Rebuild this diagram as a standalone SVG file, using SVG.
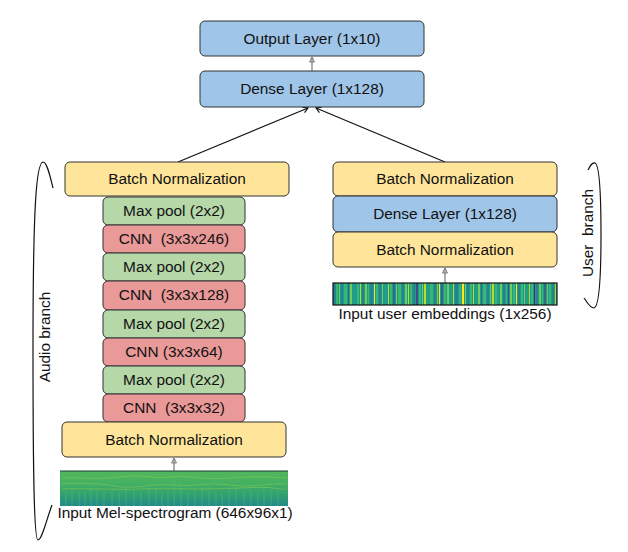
<svg xmlns="http://www.w3.org/2000/svg" width="628" height="552" viewBox="0 0 628 552">
<style>
  .n rect { stroke:#333; stroke-width:1; }
  .blue { fill:#9fc5e8; }
  .yel { fill:#ffe599; }
  .grn { fill:#b6d7a8; }
  .red { fill:#ea9999; }
  text { font-family:"Liberation Sans", Arial, sans-serif; font-size:15.4px; fill:#111; text-anchor:middle; white-space:pre; }
  .conn { stroke:#111; stroke-width:1.2; fill:none; }
  .gray { stroke:#777; stroke-width:1.2; fill:none; }
  .brace { stroke:#111; stroke-width:1.2; fill:none; }
</style>
<defs>
  <marker id="ah" markerWidth="8" markerHeight="8" refX="6" refY="4" orient="auto" markerUnits="userSpaceOnUse">
    <path d="M1,1 L6,4 L1,7" fill="none" stroke="#111" stroke-width="1.2"/>
  </marker>
  <marker id="ahg" markerWidth="8" markerHeight="8" refX="6" refY="4" orient="auto" markerUnits="userSpaceOnUse">
    <path d="M1,1.5 L6,4 L1,6.5 Z" fill="none" stroke="#777" stroke-width="1"/>
  </marker>
  <linearGradient id="spec" x1="0" y1="0" x2="0" y2="1">
    <stop offset="0" stop-color="#52b75b"/>
    <stop offset="0.35" stop-color="#44b062"/>
    <stop offset="0.7" stop-color="#2f9f74"/>
    <stop offset="1" stop-color="#238a8a"/>
  </linearGradient>
</defs>

<g id="connectors">
  <line class="gray" x1="312" y1="71" x2="312" y2="57" marker-end="url(#ahg)"/>
  <line class="conn" x1="178" y1="162" x2="308" y2="108" marker-end="url(#ah)"/>
  <line class="conn" x1="445" y1="162" x2="316" y2="108" marker-end="url(#ah)"/>
  <line class="gray" x1="174" y1="471" x2="174" y2="458" marker-end="url(#ahg)"/>
  <line class="gray" x1="445" y1="283" x2="445" y2="268" marker-end="url(#ahg)"/>
</g>

<g id="output-layer" class="n"><rect class="blue" x="200" y="21" width="224" height="35" rx="5"/><text x="312" y="44">Output Layer (1x10)</text></g>
<g id="dense-layer" class="n"><rect class="blue" x="200" y="71" width="224" height="36" rx="5"/><text x="312" y="94">Dense Layer (1x128)</text></g>

<g id="audio-bn-top" class="n"><rect class="yel" x="65" y="162" width="224" height="34" rx="5"/><text x="177" y="184">Batch Normalization</text></g>
<g id="maxpool-1" class="n"><rect class="grn" x="103" y="197" width="142" height="28" rx="5"/><text x="174" y="216">Max pool (2x2)</text></g>
<g id="cnn-246" class="n"><rect class="red" x="103" y="225" width="142" height="28" rx="5"/><text x="174" y="244">CNN  (3x3x246)</text></g>
<g id="maxpool-2" class="n"><rect class="grn" x="103" y="253" width="142" height="28" rx="5"/><text x="174" y="272">Max pool (2x2)</text></g>
<g id="cnn-128" class="n"><rect class="red" x="103" y="281" width="142" height="29" rx="5"/><text x="174" y="300">CNN  (3x3x128)</text></g>
<g id="maxpool-3" class="n"><rect class="grn" x="103" y="310" width="142" height="28" rx="5"/><text x="174" y="329">Max pool (2x2)</text></g>
<g id="cnn-64" class="n"><rect class="red" x="103" y="338" width="142" height="28" rx="5"/><text x="174" y="357">CNN (3x3x64)</text></g>
<g id="maxpool-4" class="n"><rect class="grn" x="103" y="366" width="142" height="28" rx="5"/><text x="174" y="385">Max pool (2x2)</text></g>
<g id="cnn-32" class="n"><rect class="red" x="103" y="394" width="142" height="28" rx="5"/><text x="174" y="413">CNN  (3x3x32)</text></g>
<g id="audio-bn-bottom" class="n"><rect class="yel" x="62" y="422" width="224" height="35" rx="5"/><text x="174" y="445">Batch Normalization</text></g>

<g id="mel-input">
  <rect x="60" y="471" width="228" height="35" fill="url(#spec)"/>
  <g stroke="#a9d84a" stroke-width="1" fill="none" opacity="0.4">
    <path d="M62,478 C80,477 95,480 120,477 S150,479 170,477 S200,480 230,478 S270,477 287,478"/>
    <path d="M62,483 C75,485 95,482 115,486 S150,483 175,485 S205,482 230,485 S265,483 287,484"/>
    <path d="M62,489 C85,488 110,490 140,489 S200,490 240,488 S275,490 287,489"/>
  </g>
  <g stroke="#62c264" stroke-width="1" opacity="0.45">
    <line x1="66" y1="490" x2="66" y2="506"/><line x1="72" y1="488" x2="72" y2="506"/><line x1="79" y1="493" x2="79" y2="506"/><line x1="85" y1="492" x2="85" y2="506"/>
    <line x1="91" y1="489" x2="91" y2="506"/><line x1="97" y1="486" x2="97" y2="506"/><line x1="104" y1="491" x2="104" y2="506"/><line x1="112" y1="490" x2="112" y2="506"/>
    <line x1="119" y1="493" x2="119" y2="506"/><line x1="126" y1="485" x2="126" y2="506"/><line x1="134" y1="490" x2="134" y2="506"/><line x1="141" y1="492" x2="141" y2="506"/>
    <line x1="149" y1="489" x2="149" y2="506"/><line x1="156" y1="487" x2="156" y2="506"/><line x1="162" y1="493" x2="162" y2="506"/><line x1="168" y1="491" x2="168" y2="506"/>
    <line x1="174" y1="480" x2="174" y2="506"/><line x1="181" y1="484" x2="181" y2="506"/><line x1="188" y1="492" x2="188" y2="506"/><line x1="195" y1="490" x2="195" y2="506"/>
    <line x1="202" y1="489" x2="202" y2="506"/><line x1="209" y1="486" x2="209" y2="506"/><line x1="216" y1="493" x2="216" y2="506"/><line x1="222" y1="492" x2="222" y2="506"/>
    <line x1="229" y1="490" x2="229" y2="506"/><line x1="236" y1="487" x2="236" y2="506"/><line x1="244" y1="491" x2="244" y2="506"/><line x1="251" y1="490" x2="251" y2="506"/>
    <line x1="258" y1="493" x2="258" y2="506"/><line x1="264" y1="485" x2="264" y2="506"/><line x1="271" y1="490" x2="271" y2="506"/><line x1="278" y1="491" x2="278" y2="506"/>
  </g>
  <line x1="60" y1="471" x2="288" y2="471" stroke="#1c3b3b" stroke-width="1.2"/>
  <text x="175" y="518">Input Mel-spectrogram (646x96x1)</text>
</g>

<g id="user-bn-top" class="n"><rect class="yel" x="333" y="162" width="224" height="34" rx="5"/><text x="445" y="184">Batch Normalization</text></g>
<g id="user-dense" class="n"><rect class="blue" x="333" y="196" width="224" height="36" rx="5"/><text x="445" y="219">Dense Layer (1x128)</text></g>
<g id="user-bn-bottom" class="n"><rect class="yel" x="333" y="232" width="224" height="35" rx="5"/><text x="445" y="255">Batch Normalization</text></g>

<g id="user-input">
  <rect x="333" y="283" width="224" height="22" fill="#23998a"/>
  <g>
    <rect x="333" y="283" width="3" height="22" fill="#26828e"/>
    <rect x="336" y="283" width="2" height="22" fill="#35b779"/>
    <rect x="339" y="283" width="1" height="22" fill="#6ece58"/>
    <rect x="341" y="283" width="2" height="22" fill="#26828e"/>
    <rect x="344" y="283" width="3" height="22" fill="#35b779"/>
    <rect x="348" y="283" width="1" height="22" fill="#31688e"/>
    <rect x="350" y="283" width="2" height="22" fill="#6ece58"/>
    <rect x="353" y="283" width="3" height="22" fill="#1f9e89"/>
    <rect x="357" y="283" width="2" height="22" fill="#35b779"/>
    <rect x="360" y="283" width="1" height="22" fill="#b5de2b"/>
    <rect x="362" y="283" width="2" height="22" fill="#26828e"/>
    <rect x="365" y="283" width="2" height="22" fill="#6ece58"/>
    <rect x="368" y="283" width="1" height="22" fill="#35b779"/>
    <rect x="370" y="283" width="3" height="22" fill="#26828e"/>
    <rect x="374" y="283" width="1" height="22" fill="#fde725"/>
    <rect x="376" y="283" width="2" height="22" fill="#35b779"/>
    <rect x="379" y="283" width="2" height="22" fill="#26828e"/>
    <rect x="382" y="283" width="1" height="22" fill="#6ece58"/>
    <rect x="384" y="283" width="3" height="22" fill="#1f9e89"/>
    <rect x="388" y="283" width="1" height="22" fill="#b5de2b"/>
    <rect x="390" y="283" width="2" height="22" fill="#35b779"/>
    <rect x="393" y="283" width="2" height="22" fill="#31688e"/>
    <rect x="396" y="283" width="1" height="22" fill="#6ece58"/>
    <rect x="398" y="283" width="3" height="22" fill="#35b779"/>
    <rect x="402" y="283" width="2" height="22" fill="#26828e"/>
    <rect x="405" y="283" width="2" height="22" fill="#6ece58"/>
    <rect x="408" y="283" width="1" height="22" fill="#b5de2b"/>
    <rect x="410" y="283" width="2" height="22" fill="#35b779"/>
    <rect x="413" y="283" width="2" height="22" fill="#26828e"/>
    <rect x="416" y="283" width="2" height="22" fill="#3e4a89"/>
    <rect x="419" y="283" width="2" height="22" fill="#35b779"/>
    <rect x="422" y="283" width="1" height="22" fill="#6ece58"/>
    <rect x="424" y="283" width="2" height="22" fill="#b5de2b"/>
    <rect x="427" y="283" width="2" height="22" fill="#1f9e89"/>
    <rect x="430" y="283" width="3" height="22" fill="#35b779"/>
    <rect x="434" y="283" width="2" height="22" fill="#26828e"/>
    <rect x="437" y="283" width="1" height="22" fill="#6ece58"/>
    <rect x="439" y="283" width="1" height="22" fill="#fde725"/>
    <rect x="441" y="283" width="2" height="22" fill="#31688e"/>
    <rect x="444" y="283" width="2" height="22" fill="#35b779"/>
    <rect x="447" y="283" width="2" height="22" fill="#6ece58"/>
    <rect x="450" y="283" width="2" height="22" fill="#1f9e89"/>
    <rect x="453" y="283" width="1" height="22" fill="#b5de2b"/>
    <rect x="455" y="283" width="3" height="22" fill="#26828e"/>
    <rect x="459" y="283" width="2" height="22" fill="#35b779"/>
    <rect x="462" y="283" width="2" height="22" fill="#fde725"/>
    <rect x="465" y="283" width="1" height="22" fill="#6ece58"/>
    <rect x="467" y="283" width="2" height="22" fill="#26828e"/>
    <rect x="470" y="283" width="2" height="22" fill="#35b779"/>
    <rect x="473" y="283" width="1" height="22" fill="#b5de2b"/>
    <rect x="475" y="283" width="2" height="22" fill="#1f9e89"/>
    <rect x="478" y="283" width="2" height="22" fill="#6ece58"/>
    <rect x="481" y="283" width="1" height="22" fill="#31688e"/>
    <rect x="483" y="283" width="3" height="22" fill="#35b779"/>
    <rect x="487" y="283" width="2" height="22" fill="#26828e"/>
    <rect x="490" y="283" width="1" height="22" fill="#6ece58"/>
    <rect x="492" y="283" width="2" height="22" fill="#b5de2b"/>
    <rect x="495" y="283" width="2" height="22" fill="#35b779"/>
    <rect x="498" y="283" width="1" height="22" fill="#1f9e89"/>
    <rect x="500" y="283" width="2" height="22" fill="#6ece58"/>
    <rect x="503" y="283" width="2" height="22" fill="#26828e"/>
    <rect x="506" y="283" width="1" height="22" fill="#35b779"/>
    <rect x="508" y="283" width="1" height="22" fill="#3e4a89"/>
    <rect x="510" y="283" width="2" height="22" fill="#6ece58"/>
    <rect x="513" y="283" width="2" height="22" fill="#35b779"/>
    <rect x="516" y="283" width="1" height="22" fill="#fde725"/>
    <rect x="518" y="283" width="2" height="22" fill="#26828e"/>
    <rect x="521" y="283" width="2" height="22" fill="#35b779"/>
    <rect x="524" y="283" width="1" height="22" fill="#6ece58"/>
    <rect x="526" y="283" width="2" height="22" fill="#1f9e89"/>
    <rect x="529" y="283" width="1" height="22" fill="#b5de2b"/>
    <rect x="531" y="283" width="2" height="22" fill="#35b779"/>
    <rect x="534" y="283" width="1" height="22" fill="#482878"/>
    <rect x="536" y="283" width="2" height="22" fill="#26828e"/>
    <rect x="539" y="283" width="2" height="22" fill="#6ece58"/>
    <rect x="542" y="283" width="1" height="22" fill="#35b779"/>
    <rect x="544" y="283" width="2" height="22" fill="#31688e"/>
    <rect x="547" y="283" width="1" height="22" fill="#6ece58"/>
    <rect x="549" y="283" width="2" height="22" fill="#35b779"/>
    <rect x="552" y="283" width="2" height="22" fill="#26828e"/>
    <rect x="555" y="283" width="1" height="22" fill="#b5de2b"/>
  </g>
  <rect x="333" y="283" width="224" height="22" fill="none" stroke="#111" stroke-width="1.2"/>
  <text x="445" y="319">Input user embeddings (1x256)</text>
</g>

<g id="audio-branch-brace">
  <path class="brace" d="M53,188 C50,176 47,162 43,162 C36,163 33,210 33,350 C33,470 34,540 38,540 C42,540 47,518 52,505"/>
  <text transform="translate(50,337) rotate(-90)">Audio branch</text>
</g>
<g id="user-branch-brace">
  <path class="brace" d="M588,170 C590,166 592,162 595,163 C600,165 601,200 601,235 C601,280 599,307 594,308 C590,308 587,302 584,298"/>
  <text transform="translate(593,233) rotate(-90)">User  branch</text>
</g>
</svg>
